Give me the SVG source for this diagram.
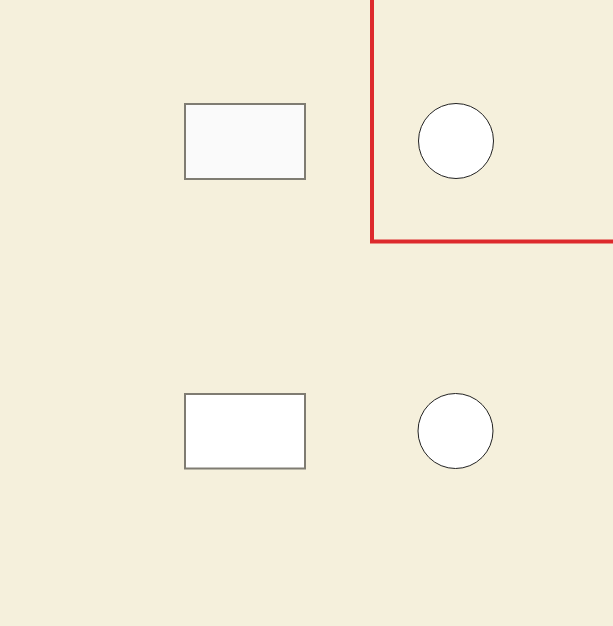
<svg xmlns="http://www.w3.org/2000/svg" width="613" height="626" viewBox="0 0 613 626">
<style>
.box{stroke:#7f7c72;stroke-width:2}
.circ{fill:#ffffff;stroke:#222222;stroke-width:1}
</style>
<rect x="0" y="0" width="613" height="626" fill="#f5f0dc"/>
<g id="connectors">
<path d="M372,0 V241.5 H613" fill="none" stroke="#dd2a2d" stroke-width="4"/>
</g>
<g id="rect1"><rect class="box" x="185" y="104" width="120" height="75" fill="#fafafa"/></g>
<g id="circle1"><circle class="circ" cx="456" cy="141" r="37.5"/></g>
<g id="rect2"><rect class="box" x="185" y="394" width="120" height="74.5" fill="#ffffff"/></g>
<g id="circle2"><circle class="circ" cx="455.5" cy="431" r="37.5"/></g>
</svg>
